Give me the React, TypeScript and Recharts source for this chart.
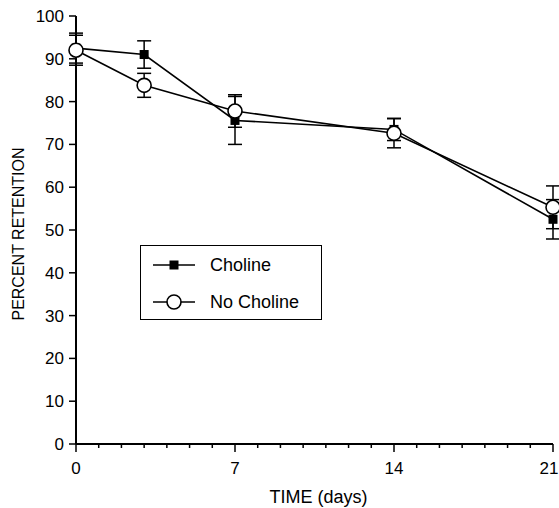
import React from "react";
import { LineChart, Line, XAxis, YAxis, ErrorBar, Legend } from "recharts";

const days = [0, 3, 7, 14, 21];
const cholineValues = [92.5, 91, 75.6, 73.5, 52.5];
const cholineErrors = [3.5, 3.2, 5.6, 2.6, 4.6];
const noCholineValues = [92, 83.8, 77.8, 72.6, 55.3];
const noCholineErrors = [3.5, 2.8, 3.8, 3.4, 5];

const xTicks = Array.from({ length: 22 }, (_, i) => i);
const xLabelled = [0, 7, 14, 21];
const yTicks = [0, 10, 20, 30, 40, 50, 60, 70, 80, 90, 100];

const data = days.map((d, i) => ({
  day: d,
  choline: cholineValues[i],
  cholineErr: cholineErrors[i],
  noCholine: noCholineValues[i],
  noCholineErr: noCholineErrors[i],
}));

const FONT = "'Liberation Sans', Arial, Helvetica, sans-serif";

function SquareDot(props: any) {
  const { cx, cy, index } = props;
  if (cx == null || cy == null) return <g key={`sq-${index}`} />;
  return <rect key={`sq-${index}`} x={cx - 4.5} y={cy - 4.5} width={9} height={9} fill="#000" />;
}

function CircleDot(props: any) {
  const { cx, cy, index } = props;
  if (cx == null || cy == null) return <g key={`ci-${index}`} />;
  return <circle key={`ci-${index}`} cx={cx} cy={cy} r={7} fill="#fff" stroke="#000" strokeWidth={1.6} />;
}

function DayTick(props: any) {
  const { x, y, payload } = props;
  const major = xLabelled.includes(payload.value);
  // last label sits against the right edge, keep it inside the page
  const lx = Math.min(x, 549);
  return (
    <g>
      <line x1={x} y1={y} x2={x} y2={y + (major ? 8 : 4)} stroke="#000" strokeWidth={1.5} />
      {major && (
        <text x={lx} y={y + 30} textAnchor="middle" fontSize={17} fontFamily={FONT} fill="#000">
          {payload.value}
        </text>
      )}
    </g>
  );
}

function LegendBox(props: any) {
  const items = props.payload || [];
  return (
    <div style={{ width: 180, height: 73, border: "1.6px solid #000", background: "#fff", fontFamily: FONT, fontSize: 18, color: "#000" }}>
      {items.map((it: any, i: number) => (
        <div key={i} style={{ display: "flex", alignItems: "center", height: 38, marginTop: i === 0 ? 0 : -1 }}>
          <svg width={66} height={20}>
            <line x1={12} y1={10} x2={54} y2={10} stroke="#000" strokeWidth={1.6} />
            {it.dataKey === "choline" ? (
              <rect x={28.5} y={5.5} width={9} height={9} fill="#000" />
            ) : (
              <circle cx={33} cy={10} r={7} fill="#fff" stroke="#000" strokeWidth={1.6} />
            )}
          </svg>
          <span style={{ marginLeft: 3 }}>{it.value}</span>
        </div>
      ))}
    </div>
  );
}

export default function App() {
  return (
    <div style={{ position: "absolute", left: 0, top: 0, width: 559, height: 508, background: "#fff" }}>
      <LineChart width={559} height={508} data={data} margin={{ top: 16, right: 6, bottom: 0, left: 0 }}>
        <XAxis
          dataKey="day"
          type="number"
          domain={[0, 21]}
          ticks={xTicks}
          interval={0}
          tick={<DayTick />}
          tickLine={false}
          tickSize={0}
          tickMargin={0}
          height={64}
          axisLine={{ stroke: "#000", strokeWidth: 2 }}
          label={{
            content: (p: any) => (
              <text x={p.viewBox.x + p.viewBox.width / 2 + 4} y={503} textAnchor="middle" fontSize={18} fontFamily={FONT} fill="#000">
                TIME (days)
              </text>
            ),
          }}
        />
        <YAxis
          type="number"
          domain={[0, 100]}
          ticks={yTicks}
          interval={0}
          width={76}
          tickSize={7}
          tickMargin={5}
          tick={{ fontSize: 17, fontFamily: FONT, fill: "#000" }}
          tickLine={{ stroke: "#000", strokeWidth: 1.5 }}
          axisLine={{ stroke: "#000", strokeWidth: 2 }}
          label={{
            content: (p: any) => {
              const cx = 18;
              const cy = p.viewBox.y + p.viewBox.height / 2 + 4;
              return (
                <text x={cx} y={cy} transform={`rotate(-90 ${cx} ${cy})`} textAnchor="middle" dominantBaseline="central" fontSize={16} fontFamily={FONT} fill="#000">
                  PERCENT RETENTION
                </text>
              );
            },
          }}
        />
        <Legend
          layout="vertical"
          align="center"
          verticalAlign="middle"
          content={<LegendBox />}
          wrapperStyle={{ left: 140, top: 245, width: 184, height: 77 }}
        />
        <Line
          dataKey="choline"
          name="Choline"
          stroke="#000"
          strokeWidth={1.6}
          dot={<SquareDot />}
          activeDot={false}
          isAnimationActive={false}
        >
          <ErrorBar dataKey="cholineErr" width={7} stroke="#000" strokeWidth={1.5} direction="y" />
        </Line>
        <Line
          dataKey="noCholine"
          name="No Choline"
          stroke="#000"
          strokeWidth={1.6}
          dot={<CircleDot />}
          activeDot={false}
          isAnimationActive={false}
        >
          <ErrorBar dataKey="noCholineErr" width={7} stroke="#000" strokeWidth={1.5} direction="y" />
        </Line>
      </LineChart>
    </div>
  );
}
